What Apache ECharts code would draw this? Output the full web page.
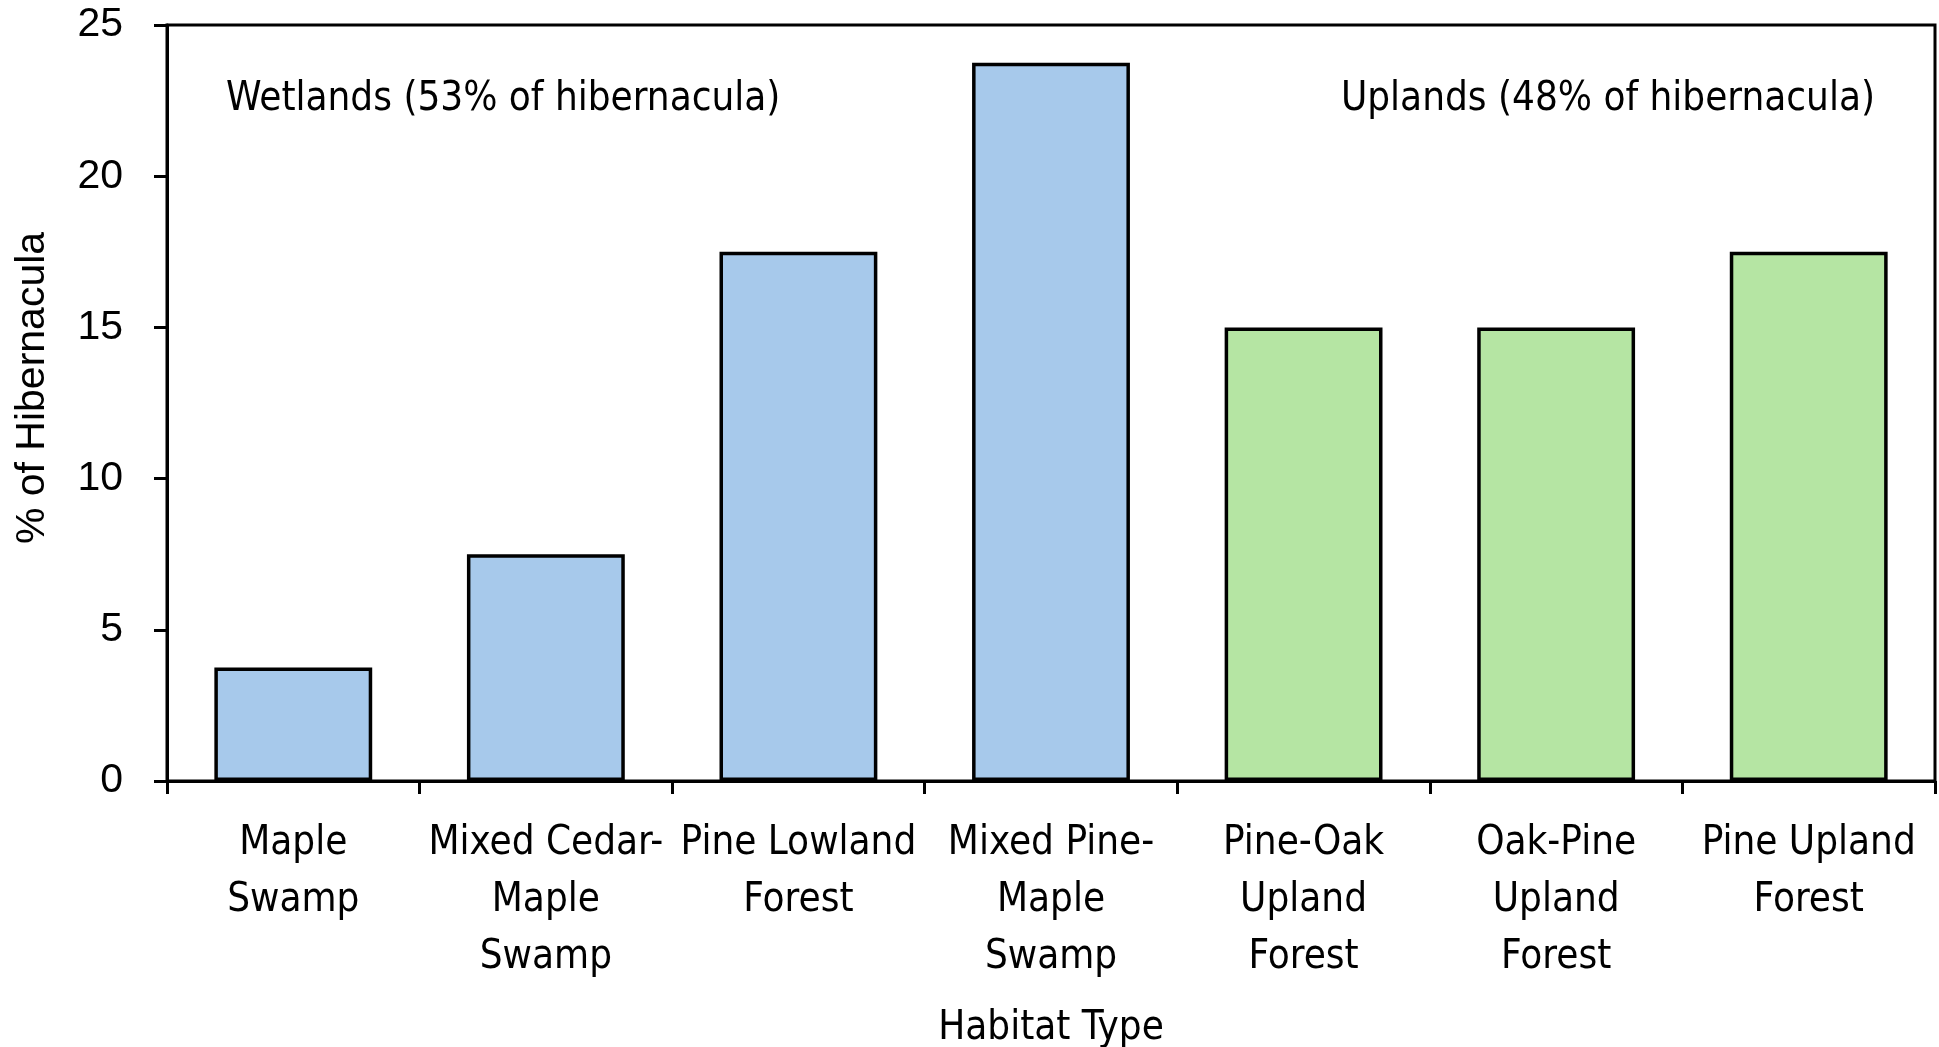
<!DOCTYPE html>
<html>
<head>
<meta charset="utf-8">
<script src="https://cdn.jsdelivr.net/npm/echarts@6/dist/echarts.min.js"></script>
<style>
html,body{margin:0;padding:0;background:#fff;}
#chart{width:1939px;height:1047px;}
</style>
</head>
<body>
<div id="chart"></div>
<script>
const categories = ["Maple Swamp","Mixed Cedar-Maple Swamp","Pine Lowland Forest","Mixed Pine-Maple Swamp","Pine-Oak Upland Forest","Oak-Pine Upland Forest","Pine Upland Forest"];
const tickLabels = ["Maple\nSwamp","Mixed Cedar-\nMaple\nSwamp","Pine Lowland\nForest","Mixed Pine-\nMaple\nSwamp","Pine-Oak\nUpland\nForest","Oak-Pine\nUpland\nForest","Pine Upland\nForest"];
const habitatGroup = ["Wetland","Wetland","Wetland","Wetland","Upland","Upland","Upland"];
const percentHibernacula = [3.75, 7.5, 17.5, 23.75, 15, 15, 17.5];
const yTicks = [0, 5, 10, 15, 20, 25];
const yAxisTitle = "% of Hibernacula";
const xAxisTitle = "Habitat Type";
const wetlandLabel = "Wetlands (53% of hibernacula)";
const uplandLabel = "Uplands (48% of hibernacula)";

const groupColors = {Wetland: "#A7C9EB", Upland: "#B5E5A3"};
const narrow = "'Liberation Sans Narrow','DejaVu Sans Condensed','Liberation Sans',sans-serif";
const arial = "'Liberation Sans',Arial,sans-serif";

const chart = echarts.init(document.getElementById('chart'), null, {renderer:'canvas'});
chart.setOption({
  animation: false,
  backgroundColor: '#fff',
  grid: {left: 167, right: 4, top: 25, bottom: 266, containLabel: false, outerBoundsMode: 'none',
         show: true, borderColor: '#000', borderWidth: 3, backgroundColor: 'transparent'},
  xAxis: {
    type: 'category',
    data: categories,
    name: xAxisTitle,
    nameLocation: 'middle',
    nameGap: 228,
    nameTextStyle: {fontFamily: narrow, fontSize: 40, color: '#000'},
    axisLine: {show: true, lineStyle: {color: '#000', width: 3}},
    axisTick: {show: true, length: 13, lineStyle: {color: '#000', width: 3}},
    axisLabel: {
      interval: 0, margin: 34, color: '#000', fontFamily: narrow, fontSize: 40, lineHeight: 57,
      formatter: (v, i) => tickLabels[i]
    }
  },
  yAxis: {
    type: 'value',
    min: yTicks[0], max: yTicks[yTicks.length-1], interval: 5,
    splitLine: {show: false},
    axisLine: {show: true, lineStyle: {color: '#000', width: 3}},
    axisTick: {show: true, length: 13, lineStyle: {color: '#000', width: 3}},
    axisLabel: {margin: 44, color: '#000', fontFamily: arial, fontSize: 41}
  },
  series: [{
    type: 'bar',
    data: percentHibernacula.map((v, i) => ({value: v, itemStyle: {color: groupColors[habitatGroup[i]]}})),
    barCategoryGap: '37.5%',
    itemStyle: {borderColor: '#000', borderWidth: 3.5}
  }],
  graphic: [
    {type: 'text', x: 33, y: 388, rotation: Math.PI / 2,
     style: {text: yAxisTitle, fontFamily: arial, fontSize: 41, fill: '#000', textAlign: 'center', textVerticalAlign: 'middle'}},
    {type: 'text', left: 226, top: 80, style: {text: wetlandLabel, fontFamily: narrow, fontSize: 40, fill: '#000'}},
    {type: 'text', right: 64, top: 80, style: {text: uplandLabel, fontFamily: narrow, fontSize: 40, fill: '#000'}}
  ]
});
</script>
</body>
</html>
